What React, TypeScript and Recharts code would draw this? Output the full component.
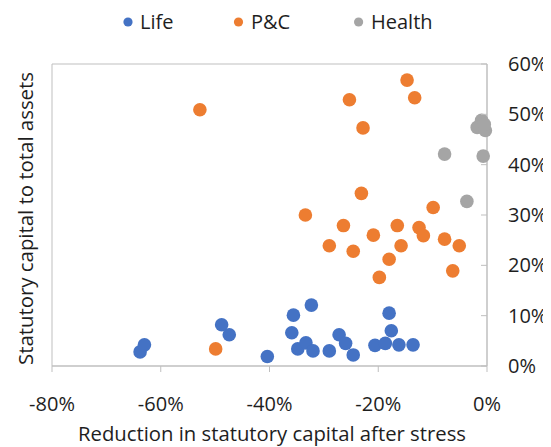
import React from 'react';
import { ScatterChart, Scatter, XAxis, YAxis, ReferenceArea, Legend, Label } from 'recharts';

// ---- data (percent values) ----
const lifePoints = [
  { x: -63.8, y: 2.8 }, { x: -63.0, y: 4.2 }, { x: -48.8, y: 8.2 }, { x: -47.4, y: 6.2 },
  { x: -40.4, y: 1.9 }, { x: -35.6, y: 10.1 }, { x: -32.3, y: 12.1 }, { x: -35.9, y: 6.6 },
  { x: -34.8, y: 3.4 }, { x: -33.3, y: 4.6 }, { x: -32.0, y: 3.0 }, { x: -29.0, y: 3.0 },
  { x: -27.2, y: 6.2 }, { x: -26.0, y: 4.5 }, { x: -24.6, y: 2.2 }, { x: -20.6, y: 4.1 },
  { x: -18.7, y: 4.5 }, { x: -18.0, y: 10.5 }, { x: -17.6, y: 7.0 }, { x: -16.2, y: 4.2 },
  { x: -13.6, y: 4.2 },
];

const pcPoints = [
  { x: -52.8, y: 50.9 }, { x: -49.9, y: 3.4 }, { x: -33.4, y: 30.0 }, { x: -26.4, y: 27.9 },
  { x: -29.0, y: 23.9 }, { x: -24.6, y: 22.8 }, { x: -20.9, y: 26.0 }, { x: -16.5, y: 27.9 },
  { x: -15.8, y: 23.9 }, { x: -18.0, y: 21.2 }, { x: -19.8, y: 17.6 }, { x: -12.5, y: 27.5 },
  { x: -11.7, y: 25.9 }, { x: -9.9, y: 31.5 }, { x: -7.8, y: 25.2 }, { x: -5.1, y: 23.9 },
  { x: -6.3, y: 18.9 }, { x: -14.7, y: 56.8 }, { x: -25.3, y: 52.9 }, { x: -13.3, y: 53.3 },
  { x: -22.8, y: 47.3 }, { x: -23.1, y: 34.3 },
];

const healthPoints = [
  { x: -7.8, y: 42.1 }, { x: -0.7, y: 41.7 }, { x: -3.7, y: 32.7 }, { x: -1.0, y: 48.8 },
  { x: -1.8, y: 47.4 }, { x: -0.3, y: 46.8 }, { x: -0.5, y: 48.0 },
];

const seriesNames = ['Life', 'P&C', 'Health'];
const seriesColors = ['#4472C4', '#ED7D31', '#A5A5A5'];
const xTicks = [-80, -60, -40, -20, 0];
const yTicks = [0, 10, 20, 30, 40, 50, 60];
const xTitle = 'Reduction in statutory capital after stress';
const yTitle = 'Statutory capital to total assets';

// ---- styling ----
const FONT = '"Open Sans", "Noto Sans", sans-serif';
const TEXT = '#1e1e1e';
const AXIS = '#BFBFBF';
const W = 543;
const H = 439;
const Y_TICK_MARGIN = 21;
const DOT_R = 6.8;

const pct = (v: number) => `${v}%`;

const makeDot = (color: string) => (props: any) => (
  <circle cx={props.cx} cy={props.cy} r={DOT_R} fill={color} />
);

const YTick = (props: any) => {
  const { x, y, payload } = props;
  const ax = x - Y_TICK_MARGIN;
  return (
    <g>
      <line x1={ax - 6} x2={ax} y1={y} y2={y} stroke={AXIS} strokeWidth={1} />
      <text x={x} y={y} dy="0.355em" textAnchor="start" fontSize={20} fill={TEXT} fontFamily={FONT}>
        {pct(payload.value)}
      </text>
    </g>
  );
};

const legendDotX = [120, 230.5, 350.6];
const legendTextX = [132, 243, 363];

const LegendContent = () => (
  <div style={{ width: W, height: 56, position: 'relative' }}>
    <svg width={W} height={56} style={{ position: 'absolute', left: 0, top: 0 }}>
      {seriesNames.map((n, i) => (
        <g key={n}>
          <circle cx={legendDotX[i]} cy={14} r={4.6} fill={seriesColors[i]} />
          <text x={legendTextX[i]} y={21.3} fontSize={20} fill={TEXT} fontFamily={FONT}>
            {n}
          </text>
        </g>
      ))}
    </svg>
  </div>
);

const XTitle = (props: any) => {
  const vb = props.viewBox || { x: 44, y: 358, width: 435 };
  return (
    <text
      x={vb.x + vb.width / 2 + 2.5}
      y={vb.y + 75}
      textAnchor="middle"
      fontSize={20}
      fill={TEXT}
      fontFamily={FONT}
      textLength={388}
      lengthAdjust="spacingAndGlyphs"
    >
      {xTitle}
    </text>
  );
};

const YTitle = (props: any) => {
  const vb = props.viewBox || { x: 479, y: 56, height: 302 };
  const cy = vb.y + vb.height / 2 + 3.5;
  const cx = 25;
  return (
    <text
      x={cx}
      y={cy}
      transform={`rotate(-90, ${cx}, ${cy})`}
      textAnchor="middle"
      fontSize={20}
      fill={TEXT}
      fontFamily={FONT}
      textLength={293}
      lengthAdjust="spacingAndGlyphs"
    >
      {yTitle}
    </text>
  );
};

export default function App() {
  return (
    <div style={{ width: W, height: H }}>
      <ScatterChart width={W} height={H} margin={{ top: 0, right: 0, bottom: 0, left: 44 }}>
        <Legend verticalAlign="top" align="left" wrapperStyle={{ left: 0, top: 0 }} content={<LegendContent />} />
        <XAxis
          type="number"
          dataKey="x"
          domain={[-80, 0]}
          ticks={xTicks}
          tickFormatter={pct}
          height={81}
          tickSize={6}
          tickMargin={25}
          axisLine={{ stroke: AXIS }}
          tickLine={{ stroke: AXIS }}
          tick={{ fontSize: 20, fill: TEXT, fontFamily: FONT }}
          allowDataOverflow={false}
        >
          <Label content={<XTitle />} />
        </XAxis>
        <YAxis
          type="number"
          dataKey="y"
          orientation="right"
          domain={[0, 60]}
          ticks={yTicks}
          width={64}
          tickSize={0}
          tickMargin={Y_TICK_MARGIN}
          axisLine={{ stroke: AXIS }}
          tickLine={false}
          tick={<YTick />}
        >
          <Label content={<YTitle />} />
        </YAxis>
        <ReferenceArea x1={-80} x2={0} y1={0} y2={60} fill="none" stroke={AXIS} strokeWidth={1} />
        <Scatter name={seriesNames[0]} data={lifePoints} fill={seriesColors[0]} shape={makeDot(seriesColors[0])} isAnimationActive={false} />
        <Scatter name={seriesNames[1]} data={pcPoints} fill={seriesColors[1]} shape={makeDot(seriesColors[1])} isAnimationActive={false} />
        <Scatter name={seriesNames[2]} data={healthPoints} fill={seriesColors[2]} shape={makeDot(seriesColors[2])} isAnimationActive={false} />
      </ScatterChart>
    </div>
  );
}
